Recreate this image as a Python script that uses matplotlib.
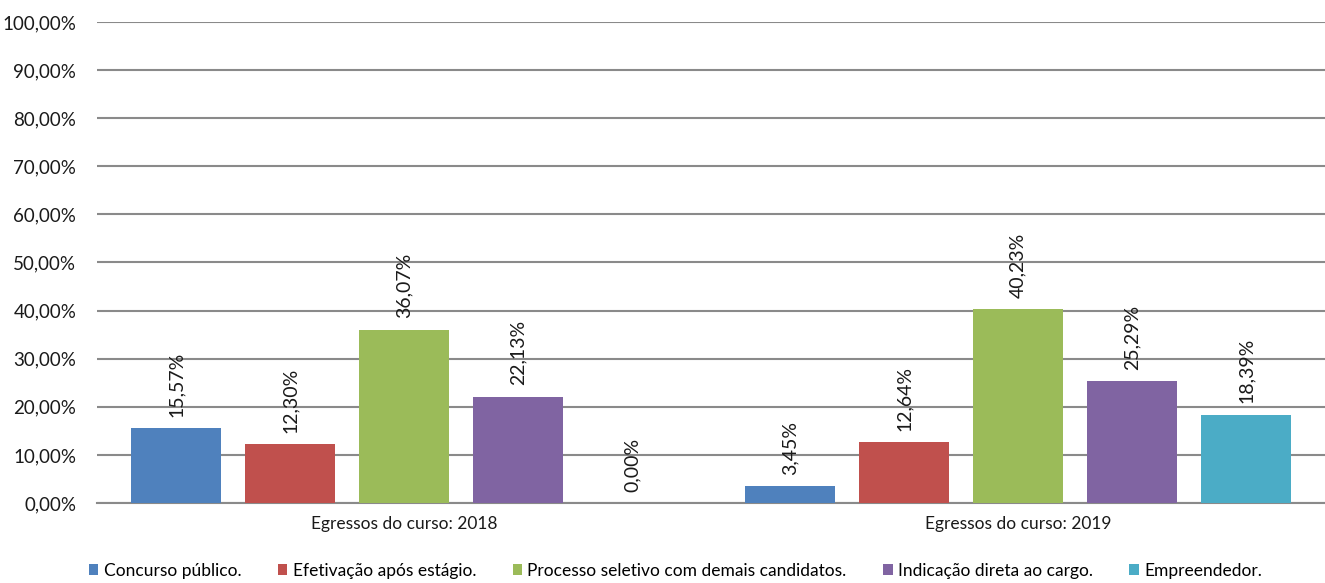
"""Bar chart: forma de ingresso no mercado dos egressos do curso (2018 x 2019)"""
import matplotlib
matplotlib.use('Agg')
import matplotlib.pyplot as plt
import numpy as np

plt.rcParams['font.family'] = ['Lato', 'DejaVu Sans']

# data (percent)
groups = ['Egressos do curso: 2018', 'Egressos do curso: 2019']
series = ['Concurso público.', 'Efetivação após estágio.',
          'Processo seletivo com demais candidatos.',
          'Indicação direta ao cargo.', 'Empreendedor.']
values_2018 = [15.57, 12.30, 36.07, 22.13, 0.00]
values_2019 = [3.45, 12.64, 40.23, 25.29, 18.39]
colors = ['#4F81BD', '#C0504D', '#9BBB59', '#8064A2', '#4BACC6']
yticks = np.arange(0, 101, 10)

fig = plt.figure(figsize=(13.25, 5.83), dpi=100)
ax = fig.add_axes([0.0732, 0.1372, 0.9268, 0.8251])

x = np.arange(len(groups))
step = 0.1857
width = 0.148
for i, name in enumerate(series):
    vals = [values_2018[i], values_2019[i]]
    pos = x + (i - 2) * step
    bars = ax.bar(pos, vals, width, color=colors[i], label=name, zorder=3)
    for b, v in zip(bars, vals):
        ax.annotate(f'{v:.2f}%'.replace('.', ','),
                    (b.get_x() + b.get_width() / 2, v),
                    xytext=(0, 8), textcoords='offset points',
                    rotation=90, ha='center', va='bottom',
                    fontsize=14, color='#1a1a1a')

ax.set_xlim(-0.5, 1.5)
ax.set_ylim(0, 100)
ax.set_yticks(yticks)
ax.set_yticklabels([f'{t},00%' for t in yticks], fontsize=13.5, color='#1a1a1a')
ax.set_xticks(x)
ax.set_xticklabels(groups, fontsize=12.5, color='#1a1a1a')
ax.tick_params(length=0, pad=9)
ax.tick_params(axis='y', pad=15)
ax.yaxis.grid(True, color='#8a8a8a', linewidth=1.5, zorder=0)
for s in ['left', 'right', 'top']:
    ax.spines[s].set_visible(False)
ax.spines['bottom'].set_color('#8a8a8a')
ax.spines['bottom'].set_linewidth(1.5)

ax.legend(loc='center', bbox_to_anchor=(0.471, -0.141), ncol=5,
          frameon=False, fontsize=12.5, handlelength=0.55, handleheight=0.55,
          handletextpad=0.3, columnspacing=2.1, borderaxespad=0)

plt.savefig('out.png', dpi=100)
